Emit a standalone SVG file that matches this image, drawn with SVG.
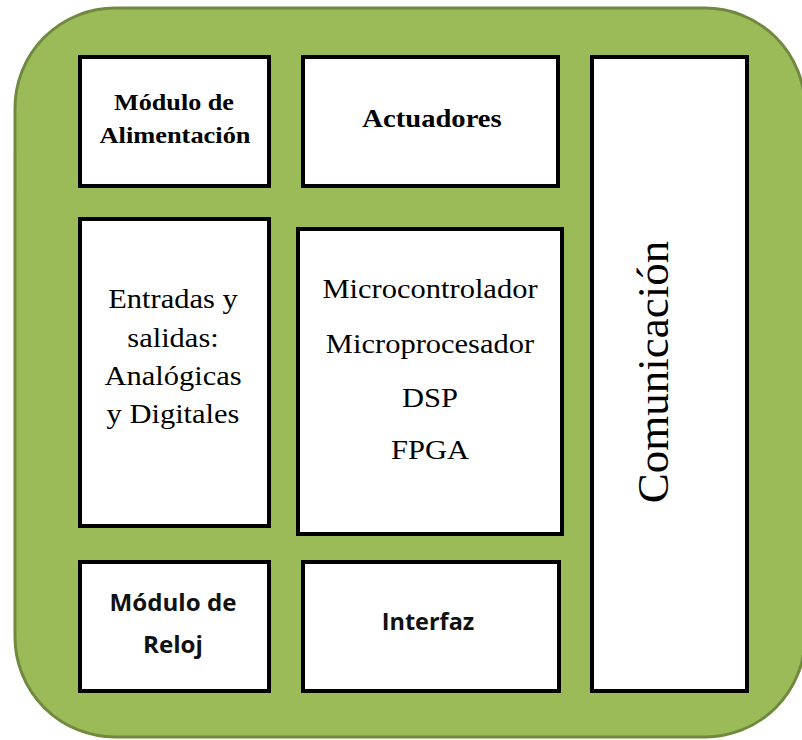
<svg xmlns="http://www.w3.org/2000/svg" width="802" height="740" viewBox="0 0 802 740">
<style>
.box{fill:#ffffff;stroke:#000000;stroke-width:4}
.sb{font-family:"Liberation Serif",serif;font-weight:bold;fill:#000;text-anchor:middle}
.sr{font-family:"Liberation Serif",serif;fill:#000;text-anchor:middle}
.ss{font-family:"Open Sans","Liberation Sans",sans-serif;font-weight:bold;fill:#111;text-anchor:middle}
</style>
<rect width="802" height="740" fill="#ffffff"/>
<rect id="fondo" x="15" y="8" width="790" height="729" rx="100" ry="100" fill="#9bbb59" stroke="#71893f" stroke-width="3"/>
<g id="alimentacion">
<rect class="box" x="80" y="57" width="189" height="129"/>
<text class="sb" transform="translate(174,110) scale(1.09,1)" font-size="24">Módulo de</text>
<text class="sb" transform="translate(175,143) scale(1.1,1)" font-size="24">Alimentación</text>
</g>
<g id="actuadores">
<rect class="box" x="303" y="57" width="255" height="129"/>
<text class="sb" transform="translate(432,127) scale(1.1,1)" font-size="26">Actuadores</text>
</g>
<g id="comunicacion">
<rect class="box" x="592" y="57" width="155" height="634"/>
<text class="sr" transform="translate(668,372) rotate(-90)" font-size="45">Comunicación</text>
</g>
<g id="entradas">
<rect class="box" x="80" y="219" width="189" height="307"/>
<text class="sr" transform="translate(173,308) scale(1.13,1)" font-size="27">Entradas y</text>
<text class="sr" transform="translate(173,347) scale(1.13,1)" font-size="27">salidas:</text>
<text class="sr" transform="translate(173,385) scale(1.13,1)" font-size="27">Analógicas</text>
<text class="sr" transform="translate(173,423) scale(1.13,1)" font-size="27">y Digitales</text>
</g>
<g id="procesador">
<rect class="box" x="298" y="229" width="264" height="305"/>
<text class="sr" transform="translate(430,298) scale(1.13,1)" font-size="27">Microcontrolador</text>
<text class="sr" transform="translate(430,353) scale(1.13,1)" font-size="27">Microprocesador</text>
<text class="sr" transform="translate(430,407) scale(1.13,1)" font-size="27">DSP</text>
<text class="sr" transform="translate(430,459) scale(1.13,1)" font-size="27">FPGA</text>
</g>
<g id="reloj">
<rect class="box" x="80" y="562" width="189" height="129"/>
<text class="ss" transform="translate(173,611) scale(1.05,1)" font-size="23">Módulo de</text>
<text class="ss" transform="translate(173,653) scale(1.05,1)" font-size="23">Reloj</text>
</g>
<g id="interfaz">
<rect class="box" x="303" y="562" width="256" height="129"/>
<text class="ss" transform="translate(428,630) scale(1.02,1)" font-size="23">Interfaz</text>
</g>
<g id="conectores"></g>
</svg>
